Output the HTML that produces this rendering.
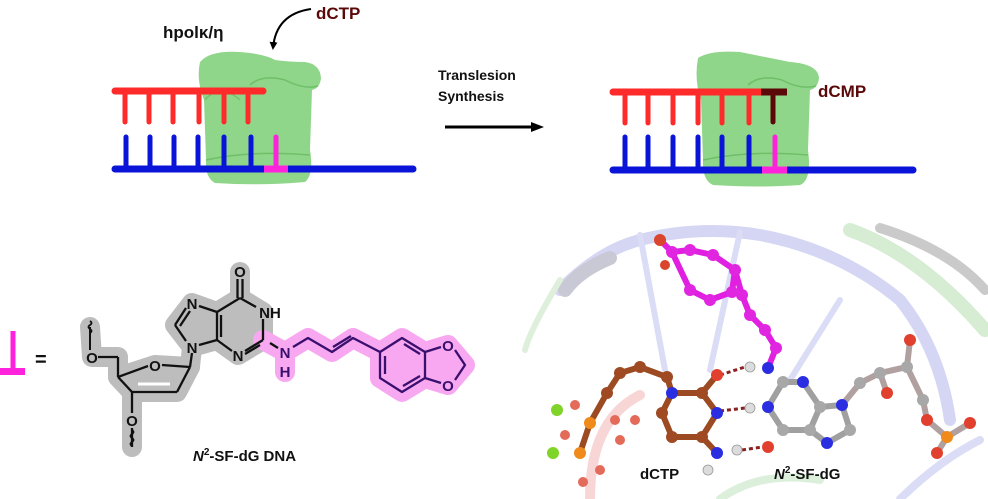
<!DOCTYPE html>
<html><head><meta charset="utf-8"><style>
html,body{margin:0;padding:0;background:#fff;}
svg{display:block;}
text{font-family:"Liberation Sans",Arial,sans-serif;font-weight:bold;}
</style></head><body>
<svg width="988" height="499" viewBox="0 0 988 499" xmlns="http://www.w3.org/2000/svg">
<defs>
<marker id="ah" markerWidth="8" markerHeight="8" refX="6" refY="4" orient="auto" markerUnits="userSpaceOnUse"><path d="M0,0 L8,4 L0,8 Z" fill="#000"/></marker>
</defs>
<!-- ===== Top left ===== -->
<path d="M200,62 Q210,50 240,52 Q265,54 275,60 Q290,62 305,62 Q320,64 321,78 Q320,88 312,90 L310,150 Q314,175 305,182 Q260,186 215,183 Q205,178 206,160 L204,100 Q196,80 200,62 Z" fill="#7dcf76" opacity="0.85"/>
<path d="M250,85 Q262,74 285,80 Q305,90 318,86" fill="none" stroke="#5fb55a" stroke-width="1.5" opacity="0.7"/>
<path d="M205,100 Q220,82 240,100" fill="none" stroke="#5fb55a" stroke-width="1.5" opacity="0.6"/>
<path d="M206,160 Q250,150 310,155" fill="none" stroke="#5fb55a" stroke-width="1.5" opacity="0.7"/>
<g stroke-linecap="round">
<line x1="115" y1="91" x2="263" y2="91" stroke="#ff2a2a" stroke-width="7"/>
<g stroke="#ff2a2a" stroke-width="5"><line x1="125" y1="91" x2="125" y2="122"/><line x1="149" y1="91" x2="149" y2="122"/><line x1="173" y1="91" x2="173" y2="122"/><line x1="199" y1="91" x2="199" y2="122"/><line x1="224" y1="91" x2="224" y2="122"/><line x1="248" y1="91" x2="248" y2="122"/></g>
<g stroke="#0a14d8" stroke-width="5"><line x1="126" y1="137" x2="126" y2="168"/><line x1="150" y1="137" x2="150" y2="168"/><line x1="174" y1="137" x2="174" y2="168"/><line x1="198" y1="137" x2="198" y2="168"/><line x1="224" y1="137" x2="224" y2="168"/><line x1="251" y1="137" x2="251" y2="168"/></g>
<line x1="276" y1="137" x2="276" y2="168" stroke="#ff22dd" stroke-width="5"/>
<line x1="115" y1="169" x2="413" y2="169" stroke="#0a14d8" stroke-width="7"/>
</g>
<rect x="264" y="165.5" width="24" height="7" fill="#ff22dd"/>
<text x="163" y="38" font-size="17" fill="#111">hpolκ/η</text>
<text x="316" y="19" font-size="17" fill="#5a0808">dCTP</text>
<path d="M311,9 Q276,14 273,48" fill="none" stroke="#000" stroke-width="2" marker-end="url(#ah)"/>
<!-- arrow -->
<text x="438" y="80" font-size="14" fill="#111">Translesion</text>
<text x="438" y="101" font-size="14" fill="#111">Synthesis</text>
<line x1="445" y1="127" x2="535" y2="127" stroke="#000" stroke-width="3"/>
<path d="M531,122 L544,127 L531,132 Z" fill="#000"/>
<!-- ===== Top right ===== -->
<path d="M698,58 Q710,50 740,52 Q770,58 790,62 Q818,64 819,78 Q818,88 810,90 L808,150 Q812,180 800,185 Q760,188 713,185 Q702,180 703,160 L701,100 Q694,80 698,58 Z" fill="#7dcf76" opacity="0.85"/>
<path d="M748,85 Q760,74 782,80 Q800,90 816,86" fill="none" stroke="#5fb55a" stroke-width="1.5" opacity="0.7"/>
<path d="M703,160 Q750,150 808,155" fill="none" stroke="#5fb55a" stroke-width="1.5" opacity="0.7"/>
<g stroke-linecap="round">
<line x1="613" y1="92" x2="762" y2="92" stroke="#ff2a2a" stroke-width="7"/>
<g stroke="#ff2a2a" stroke-width="5"><line x1="625" y1="92" x2="625" y2="123"/><line x1="648" y1="92" x2="648" y2="123"/><line x1="673" y1="92" x2="673" y2="123"/><line x1="698" y1="92" x2="698" y2="123"/><line x1="722" y1="92" x2="722" y2="123"/><line x1="749" y1="92" x2="749" y2="123"/></g>
<g stroke="#0a14d8" stroke-width="5"><line x1="625" y1="137" x2="625" y2="168"/><line x1="648" y1="137" x2="648" y2="168"/><line x1="673" y1="137" x2="673" y2="168"/><line x1="698" y1="137" x2="698" y2="168"/><line x1="722" y1="137" x2="722" y2="168"/><line x1="749" y1="137" x2="749" y2="168"/></g>
<line x1="775" y1="137" x2="775" y2="168" stroke="#ff22dd" stroke-width="5"/>
<line x1="613" y1="170" x2="913" y2="170" stroke="#0a14d8" stroke-width="7"/>
</g>
<rect x="761" y="88.5" width="26" height="7" fill="#5a0808"/>
<line x1="773" y1="92" x2="773" y2="122" stroke="#5a0808" stroke-width="5" stroke-linecap="round"/>
<rect x="762" y="166.5" width="25" height="7" fill="#ff22dd"/>
<text x="818" y="97" font-size="17" fill="#5a0808">dCMP</text>
<!-- ===== Bottom left ===== -->
<line x1="13" y1="331" x2="13" y2="372" stroke="#ff22dd" stroke-width="5"/>
<rect x="0" y="368" width="25" height="7" fill="#ff22dd"/>
<text x="35" y="366" font-size="20" fill="#111" font-weight="normal">=</text>
<!-- highlights -->
<g stroke-linecap="round" stroke-linejoin="round">
<path d="M240,298 L263,312 L263,340 L238,355 L217,340 L192,347 L175,325 L192,303 L217,312 Z" fill="#bdbdbd" stroke="#bdbdbd" stroke-width="20"/>
<path d="M190,367 L177,392 L132,392 L118,377 L155,365 Z" fill="#bdbdbd" stroke="#bdbdbd" stroke-width="20"/>
<path d="M240,272 L240,298 M192,347 L190,367 M118,377 L118,357 L92,357 L90,327 M132,392 L132,420 L132,447" fill="none" stroke="#bdbdbd" stroke-width="20"/>
<path d="M285,352 L285,372 M263,340 L285,352 L308,338 L332,352 L353,338 L380,352" fill="none" stroke="#f7a8f0" stroke-width="20"/>
<path d="M380,352 L402,338 L425,352 L448,345 L465,365 L448,385 L425,378 L402,392 L380,378 Z" fill="#f7a8f0" stroke="#f7a8f0" stroke-width="20"/>
</g>
<g stroke="#111" stroke-width="2.3" fill="none" stroke-linejoin="round">
<line x1="237.5" y1="279" x2="237.5" y2="298"/><line x1="242.5" y1="279" x2="242.5" y2="298"/>
<line x1="240" y1="298" x2="256" y2="307"/>
<line x1="263" y1="319" x2="263" y2="340"/>
<line x1="263" y1="340" x2="245" y2="351"/><line x1="260" y1="345" x2="245" y2="354"/>
<line x1="232" y1="351" x2="217" y2="340"/>
<line x1="217" y1="340" x2="217" y2="312"/><line x1="221" y1="337" x2="221" y2="315"/>
<line x1="217" y1="312" x2="240" y2="298"/>
<line x1="217" y1="312" x2="199" y2="306"/>
<line x1="186" y1="308" x2="175" y2="325"/><line x1="190" y1="311" x2="180" y2="326"/>
<line x1="175" y1="325" x2="186" y2="341"/>
<line x1="199" y1="345" x2="217" y2="340"/>
<line x1="192" y1="353" x2="190" y2="367"/>
<line x1="190" y1="367" x2="177" y2="392"/>
<line x1="177" y1="392" x2="132" y2="392"/>
<line x1="132" y1="392" x2="118" y2="377"/>
<path d="M118,377 L148,366 M162,365 L190,367"/>
<path d="M138,384 L170,384" stroke-width="3" stroke="#fff"/>
<line x1="118" y1="377" x2="118" y2="357"/>
<line x1="118" y1="357" x2="98" y2="357"/>
<path d="M90,350 L90,327" stroke-width="2"/>
<path d="M90,333 q3,-2 0,-4 q-3,-2 0,-4 q3,-2 0,-4" stroke-width="1.8"/>
<line x1="132" y1="392" x2="132" y2="413"/>
<path d="M132,428 L132,447"/>
<path d="M132,430 q3,2 0,4 q-3,2 0,4 q3,2 0,4 q-3,2 0,4" stroke-width="1.8"/>
<line x1="270" y1="343" x2="278" y2="348"/>
</g>
<g stroke="#3a0f6e" stroke-width="2.3" fill="none" stroke-linejoin="round">
<path d="M293,347 L308,338 L332,352 L353,338 L380,352"/>
<line x1="333" y1="347" x2="351" y2="336"/>
<path d="M380,352 L402,338 L425,352 L425,378 L402,392 L380,378 Z"/>
<line x1="385" y1="356" x2="385" y2="374"/><line x1="404" y1="344" x2="420" y2="354"/><line x1="403" y1="386" x2="420" y2="376"/>
<path d="M425,352 L441,347 M455,350 L465,365 L455,380 M441,383 L425,378"/>
</g>
<g font-size="15" text-anchor="middle" fill="#111">
<text x="240" y="277">O</text>
<text x="270" y="318">NH</text>
<text x="238" y="361">N</text>
<text x="192" y="309">N</text>
<text x="192" y="353">N</text>
<text x="155" y="371">O</text>
<text x="92" y="363">O</text>
<text x="132" y="426">O</text>
<text x="285" y="358" fill="#3a0f6e">N</text>
<text x="285" y="377" fill="#3a0f6e">H</text>
<text x="448" y="351" fill="#3a0f6e">O</text>
<text x="448" y="391" fill="#3a0f6e">O</text>
</g>
<text x="193" y="461" font-size="15" fill="#111"><tspan font-style="italic">N</tspan><tspan font-size="10" dy="-6">2</tspan><tspan dy="6">-SF-dG DNA</tspan></text>
<!-- ===== Bottom right render ===== -->
<g fill="none" stroke-linecap="round" opacity="0.75">
<path d="M560,290 Q600,250 640,240 Q700,225 760,235 Q840,250 900,300 Q940,350 950,420" stroke="#c7c9ef" stroke-width="12"/>
<path d="M565,290 Q580,270 610,258" stroke="#b8b8c8" stroke-width="14"/>
<line x1="640" y1="235" x2="665" y2="370" stroke="#cfd1f3" stroke-width="6"/>
<line x1="740" y1="232" x2="710" y2="370" stroke="#cfd1f3" stroke-width="6"/>
<line x1="840" y1="300" x2="790" y2="380" stroke="#cfd1f3" stroke-width="6"/>
<path d="M850,230 Q920,255 985,330" stroke="#c9e8c6" stroke-width="14"/>
<path d="M880,228 Q950,250 985,290" stroke="#9a9a9a" stroke-width="10" opacity="0.7"/>
<path d="M560,280 Q530,330 525,350" stroke="#d4ecd1" stroke-width="6"/>
<path d="M590,499 Q590,420 640,395" stroke="#f6c9c9" stroke-width="10"/>
<path d="M720,499 Q760,470 820,480" stroke="#cfead0" stroke-width="8"/>
<path d="M900,499 Q940,460 980,440" stroke="#cfd1f3" stroke-width="8"/>
</g>
<!-- bonds -->
<g stroke-width="6" stroke-linecap="round" fill="none">
<path d="M672,252 L690,250 L713,255 L735,270 L732,292 L710,300 L690,290 L672,252 M660,240 L672,252 M735,270 L742,295 L750,315 L765,330 L776,348 L768,368" stroke="#e01fe0"/>
<path d="M783,382 L768,407 L783,430 L810,430 L820,407 L803,382 Z M810,430 L827,443 L850,430 L842,405 L820,407" stroke="#a0a0a0"/>
<path d="M842,405 L860,383 L880,373 L907,367 L923,400 L927,420 L947,437 L970,423 M907,367 L910,340 M880,373 L887,393 M947,437 L937,453" stroke="#b0a0a0"/>
<path d="M672,393 L702,393 L717,413 L702,437 L672,437 L662,413 Z M702,437 L717,453 M702,393 L717,375 M672,393 L667,377 L640,367 L620,373 L607,393 L590,423 L580,453" stroke="#9c4a22"/>
</g>
<g stroke="#8b2020" stroke-width="3" stroke-dasharray="4,3">
<line x1="720" y1="375" x2="745" y2="367"/><line x1="720" y1="411" x2="745" y2="408"/><line x1="742" y1="450" x2="762" y2="447"/>
</g>
<g>
<g fill="#e026e0"><circle cx="672" cy="252" r="6"/><circle cx="690" cy="250" r="6"/><circle cx="713" cy="255" r="6"/><circle cx="735" cy="270" r="6"/><circle cx="732" cy="292" r="6"/><circle cx="710" cy="300" r="6"/><circle cx="690" cy="290" r="6"/><circle cx="742" cy="295" r="6"/><circle cx="750" cy="315" r="6"/><circle cx="765" cy="330" r="6"/><circle cx="776" cy="348" r="6"/></g>
<g fill="#d9452d"><circle cx="660" cy="240" r="6"/><circle cx="665" cy="265" r="5"/></g>
<g fill="#2a2ee0"><circle cx="768" cy="368" r="6"/><circle cx="768" cy="407" r="6"/><circle cx="803" cy="382" r="6"/><circle cx="827" cy="443" r="6"/><circle cx="842" cy="405" r="6"/><circle cx="672" cy="393" r="6"/><circle cx="717" cy="413" r="6"/><circle cx="717" cy="453" r="6"/></g>
<g fill="#a8a8a8"><circle cx="783" cy="382" r="6"/><circle cx="783" cy="430" r="6"/><circle cx="810" cy="430" r="6"/><circle cx="820" cy="407" r="6"/><circle cx="850" cy="430" r="6"/><circle cx="860" cy="383" r="6"/><circle cx="880" cy="373" r="6"/><circle cx="907" cy="367" r="6"/><circle cx="923" cy="400" r="6"/></g>
<g fill="#dcdcdc" stroke="#999" stroke-width="0.8"><circle cx="750" cy="367" r="5"/><circle cx="750" cy="408" r="5"/><circle cx="737" cy="450" r="5"/><circle cx="708" cy="470" r="5"/></g>
<g fill="#e2402e"><circle cx="768" cy="447" r="6"/><circle cx="717" cy="375" r="6"/><circle cx="910" cy="340" r="6"/><circle cx="887" cy="393" r="6"/><circle cx="927" cy="420" r="6"/><circle cx="970" cy="423" r="6"/><circle cx="937" cy="453" r="6"/></g>
<g fill="#e46a5a"><circle cx="615" cy="420" r="5"/><circle cx="575" cy="405" r="5"/><circle cx="600" cy="470" r="5"/><circle cx="635" cy="420" r="5"/><circle cx="565" cy="435" r="5"/><circle cx="583" cy="482" r="5"/><circle cx="620" cy="440" r="5"/></g>
<g fill="#a04a24"><circle cx="702" cy="393" r="6"/><circle cx="702" cy="437" r="6"/><circle cx="672" cy="437" r="6"/><circle cx="662" cy="413" r="6"/><circle cx="667" cy="377" r="6"/><circle cx="640" cy="367" r="6"/><circle cx="620" cy="373" r="6"/><circle cx="607" cy="393" r="6"/></g>
<g fill="#f08a1a"><circle cx="590" cy="423" r="6"/><circle cx="580" cy="453" r="6"/><circle cx="947" cy="437" r="6"/></g>
<g fill="#7fd42a"><circle cx="557" cy="410" r="6"/><circle cx="553" cy="453" r="6"/></g>
</g>
<text x="640" y="479" font-size="15" fill="#111">dCTP</text>
<text x="774" y="479" font-size="15" fill="#111"><tspan font-style="italic">N</tspan><tspan font-size="10" dy="-6">2</tspan><tspan dy="6">-SF-dG</tspan></text>
</svg>
</body></html>
